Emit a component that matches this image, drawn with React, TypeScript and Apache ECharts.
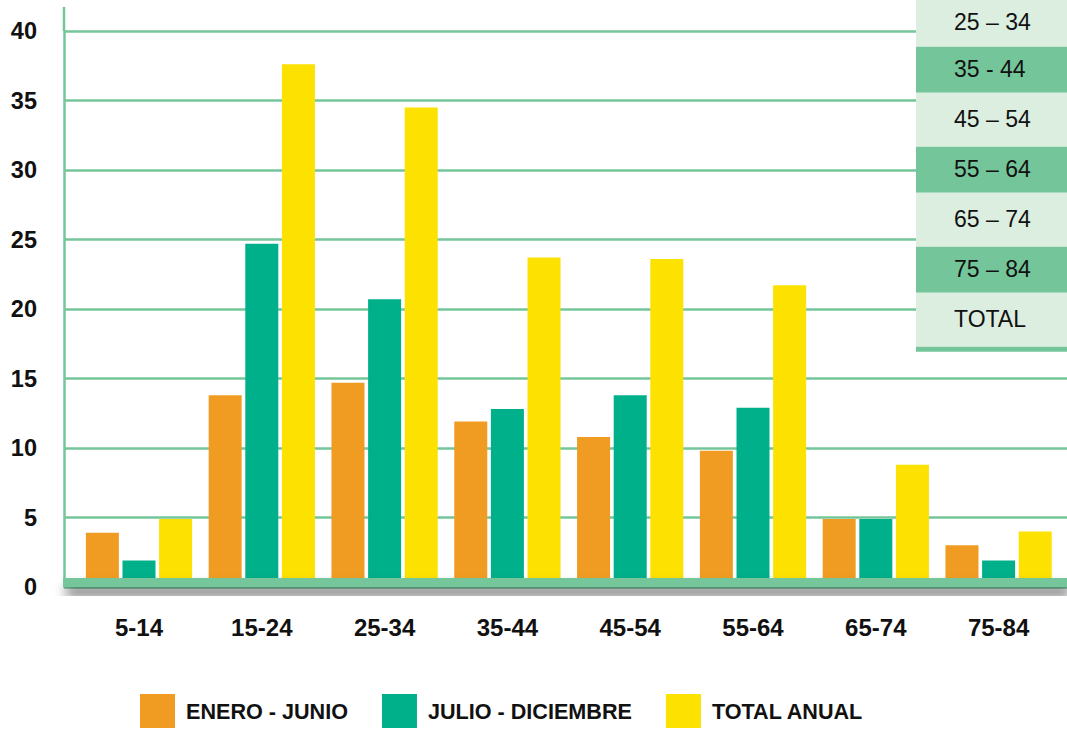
import React, { useEffect, useRef } from "react";
import * as echarts from "echarts";

const categories = ["5-14", "15-24", "25-34", "35-44", "45-54", "55-64", "65-74", "75-84"];
const eneroJunio = [3.9, 13.8, 14.7, 11.9, 10.8, 9.8, 4.9, 3.0];
const julioDiciembre = [1.9, 24.7, 20.7, 12.8, 13.8, 12.9, 4.9, 1.9];
const totalAnual = [4.9, 37.6, 34.5, 23.7, 23.6, 21.7, 8.8, 4.0];
const seriesNames = ["ENERO - JUNIO", "JULIO - DICIEMBRE", "TOTAL ANUAL"];
const tableRows = ["25 – 34", "35 - 44", "45 – 54", "55 – 64", "65 – 74", "75 – 84", "TOTAL"];

const ORANGE = "#F09C22";
const TEAL = "#00B08A";
const YELLOW = "#FDE100";
const GRID_GREEN = "#74C69A";
const LIGHT = "#DCEEE0";
const FONT = "'Liberation Sans', Arial, sans-serif";

export default function App() {
  const ref = useRef<HTMLDivElement>(null);
  useEffect(() => {
    if (!ref.current) return;
    const chart = echarts.init(ref.current, undefined, { renderer: "svg" });

    // table overlay (top right)
    const rowTops = [0, 46.7, 92.7, 146.7, 192.7, 246.7, 292.7, 346.7];
    const tableEls: any[] = [];
    tableRows.forEach((label, i) => {
      const y0 = rowTops[i];
      const y1 = rowTops[i + 1];
      tableEls.push({
        type: "rect",
        shape: { x: 916, y: y0, width: 151, height: y1 - y0 },
        style: { fill: i % 2 === 0 ? LIGHT : GRID_GREEN },
        z: 100,
      });
      tableEls.push({
        type: "text",
        x: 954,
        y: (y0 + y1) / 2 - 1,
        style: {
          text: label,
          fill: "#111",
          font: `23px ${FONT}`,
          textVerticalAlign: "middle",
          textAlign: "left",
        },
        z: 101,
      });
    });
    tableEls.push({
      type: "rect",
      shape: { x: 916, y: 346.7, width: 151, height: 5 },
      style: { fill: GRID_GREEN },
      z: 100,
    });

    chart.setOption({
      animation: false,
      backgroundColor: "#ffffff",
      grid: [
        { left: 64, right: 0, top: 31, bottom: 142 },
        { left: 77.6, right: 7, top: 31, bottom: 142 },
      ],
      xAxis: [
        {
          type: "category",
          gridIndex: 0,
          data: categories,
          axisLine: { show: false },
          axisTick: { show: false },
          axisLabel: { show: false },
        },
        {
          type: "category",
          gridIndex: 1,
          data: categories,
          axisLine: { show: false },
          axisTick: { show: false },
          axisLabel: {
            color: "#111",
            fontFamily: FONT,
            fontWeight: "bold",
            fontSize: 24,
            margin: 28,
          },
        },
      ],
      yAxis: [
        {
          type: "value",
          gridIndex: 0,
          min: 0,
          max: 40,
          interval: 5,
          axisLine: { show: true, lineStyle: { color: GRID_GREEN, width: 2.5 } },
          axisTick: { show: false },
          splitLine: { lineStyle: { color: GRID_GREEN, width: 2.5 } },
          axisLabel: {
            color: "#111",
            fontFamily: FONT,
            fontWeight: "bold",
            fontSize: 23.5,
            margin: 27,
          },
        },
        {
          type: "value",
          gridIndex: 1,
          min: 0,
          max: 40,
          interval: 5,
          show: false,
          splitLine: { show: false },
        },
      ],
      legend: {
        left: 140,
        top: 694,
        padding: 0,
        itemWidth: 35,
        itemHeight: 34,
        itemGap: 34,
        icon: "rect",
        data: seriesNames,
        textStyle: {
          color: "#111",
          fontFamily: FONT,
          fontWeight: "bold",
          fontSize: 21.6,
          padding: [0, 0, 0, 6],
        },
      },
      series: [
        { name: seriesNames[0], data: eneroJunio, color: ORANGE },
        { name: seriesNames[1], data: julioDiciembre, color: TEAL },
        { name: seriesNames[2], data: totalAnual, color: YELLOW },
      ].map((s) => ({
        type: "bar",
        name: s.name,
        data: s.data,
        xAxisIndex: 1,
        yAxisIndex: 1,
        barWidth: 33,
        barGap: "11%",
        itemStyle: { color: s.color },
      })),
      graphic: [
        {
          type: "line",
          shape: { x1: 64, y1: 7, x2: 64, y2: 31 },
          style: { stroke: GRID_GREEN, lineWidth: 2.5 },
          z: 5,
        },
        {
          type: "rect",
          shape: { x: 63, y: 578, width: 1004, height: 9 },
          style: {
            fill: GRID_GREEN,
            shadowColor: "rgba(0,0,0,0.6)",
            shadowBlur: 12,
            shadowOffsetY: 9,
            shadowOffsetX: 3,
          },
          z: 50,
        },
        ...tableEls,
      ],
    });
    return () => chart.dispose();
  }, []);
  return (
    <div
      ref={ref}
      style={{ position: "absolute", left: 0, top: 0, width: 1067, height: 729 }}
    />
  );
}
